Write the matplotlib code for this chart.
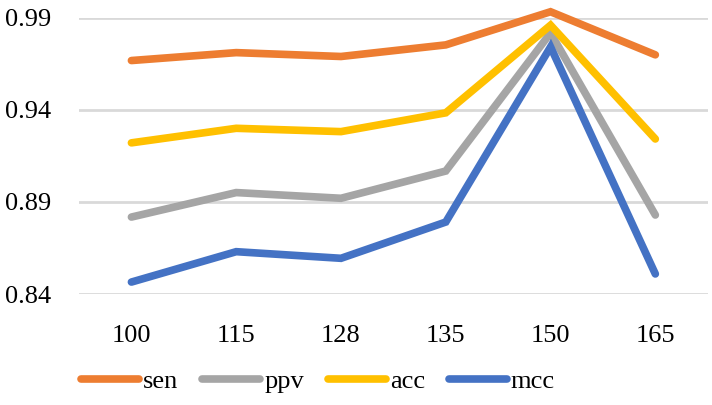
import matplotlib.pyplot as plt

categories = ['100', '115', '128', '135', '150', '165']
sen = [0.9668, 0.9711, 0.9690, 0.9753, 0.9933, 0.9699]
ppv = [0.8818, 0.8951, 0.8920, 0.9068, 0.9818, 0.8829]
acc = [0.9221, 0.9300, 0.9282, 0.9384, 0.9860, 0.9242]
mcc = [0.8465, 0.8630, 0.8594, 0.8791, 0.9742, 0.8509]
yticks = [0.84, 0.89, 0.94, 0.99]

plt.rcParams['font.family'] = ['Liberation Serif', 'DejaVu Serif']

fig = plt.figure(figsize=(7.12, 4.05), dpi=100)
ax = fig.add_axes([0.111, 0.274, 0.883, 0.682])

x = range(len(categories))
series = [('sen', sen, '#ED7D31'), ('ppv', ppv, '#A5A5A5'),
          ('acc', acc, '#FFC000'), ('mcc', mcc, '#4472C4')]
for name, vals, col in series:
    ax.plot(x, vals, color=col, lw=5.5, label=name, solid_capstyle='round',
            solid_joinstyle='miter', clip_on=False, zorder=3)

ax.set_xlim(-0.5, len(categories) - 0.5)
ax.set_ylim(0.84, 0.99)
ax.set_xticks(list(x))
ax.set_xticklabels(categories)
ax.set_yticks(yticks)
ax.set_yticklabels(['{:.2f}'.format(t) for t in yticks])
ax.tick_params(length=0, labelsize=19)
ax.tick_params(axis='y', pad=20)
ax.tick_params(axis='x', pad=22)
ax.grid(axis='y', color='#D9D9D9', lw=2)
ax.set_axisbelow(True)
for s in ax.spines.values():
    s.set_visible(False)

fig.legend(loc='center', bbox_to_anchor=(318 / 712, 1 - 381 / 405), ncol=4,
           frameon=False, fontsize=19, handlelength=2.2, handletextpad=0.15,
           columnspacing=0.9)

fig.savefig('out.png', dpi=100)
